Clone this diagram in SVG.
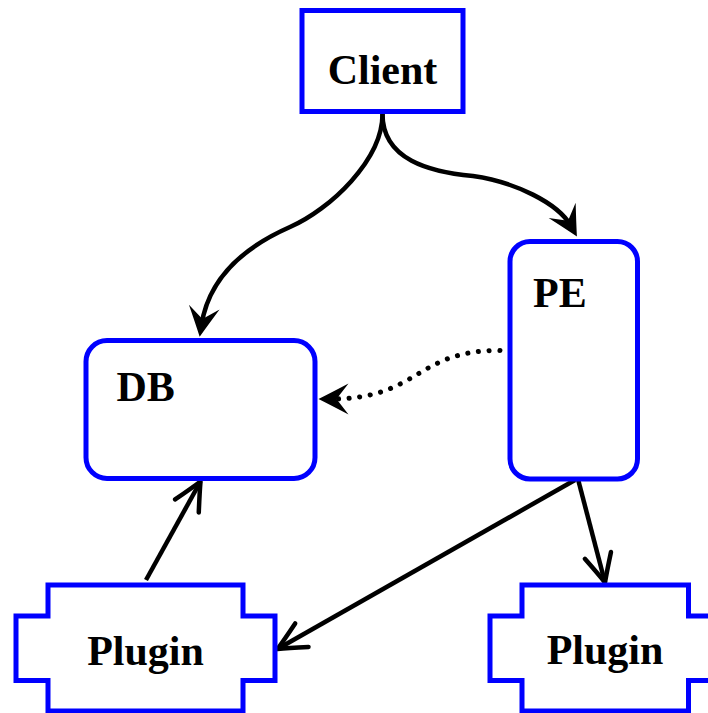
<svg xmlns="http://www.w3.org/2000/svg" width="708" height="713" viewBox="0 0 708 713">
  <style>
    .node { fill: #ffffff; stroke: #0000ff; stroke-width: 5; }
    .label { font-family: "Liberation Serif", "Times New Roman", serif; font-weight: bold; font-size: 42px; fill: #000000; }
    .edge { fill: none; stroke: #000000; stroke-width: 4.5; }
    .dotted { stroke-width: 5; stroke-dasharray: 0.1 10.6; stroke-linecap: round; }
  </style>
  <defs>
    <!-- filled stealth head; marker origin sits 12px behind the tip -->
    <marker id="stealth" markerUnits="userSpaceOnUse" viewBox="-24 -18 40 36" markerWidth="40" markerHeight="36" refX="0" refY="0" orient="auto" overflow="visible">
      <path d="M12,0 Q0,-6 -18,-15.5 L-6,0 L-18,15.5 Q0,6 12,0 Z" fill="#000000"/>
    </marker>
    <!-- open V head; origin at the tip -->
    <marker id="vee" markerUnits="userSpaceOnUse" viewBox="-32 -16 34 32" markerWidth="34" markerHeight="32" refX="0" refY="0" orient="auto" overflow="visible">
      <path d="M-28,-13.5 Q-9,-4 0,0 Q-9,4 -28,13.5" fill="none" stroke="#000000" stroke-width="4.5" stroke-linecap="round" stroke-linejoin="round"/>
    </marker>
  </defs>

  <g id="connectors">
    <path class="edge" d="M382.5,114 C382.5,160 430,172 473,176 C515,182 558,203 571,226" marker-end="url(#stealth)"/>
    <path class="edge" d="M382.5,114 C382.5,160 330,209.4 290,227 C255,242.4 210,270 201.5,325" marker-end="url(#stealth)"/>
    <path class="edge dotted" d="M500,350.5 C415,350 420,399 330.5,399" marker-end="url(#stealth)"/>
    <path class="edge" d="M146,580 L200.5,481.5" marker-end="url(#vee)"/>
    <path class="edge" d="M575,480 L277.5,649" marker-end="url(#vee)"/>
    <path class="edge" d="M576,471.5 L605,582.5" marker-end="url(#vee)"/>
  </g>

  <g id="client">
    <rect class="node" x="302" y="10.5" width="161" height="101"/>
    <text class="label" x="382.5" y="83.5" text-anchor="middle">Client</text>
  </g>

  <g id="pe">
    <rect class="node" x="510" y="241.5" width="127.5" height="237.5" rx="20" ry="20"/>
    <text class="label" x="533" y="306.5">PE</text>
  </g>

  <g id="db">
    <rect class="node" x="86" y="340.5" width="229" height="138" rx="21" ry="21"/>
    <text class="label" x="116.5" y="400.5">DB</text>
  </g>

  <g id="plugin-left">
    <polygon class="node" points="48,585 243,585 243,616 275,616 275,680.5 243,680.5 243,711 48,711 48,680.5 16,680.5 16,616 48,616"/>
    <text class="label" x="145.5" y="664.5" text-anchor="middle">Plugin</text>
  </g>

  <g id="plugin-right">
    <polygon class="node" points="522,585 688.5,585 688.5,616 720,616 720,680.5 688.5,680.5 688.5,711 522,711 522,680.5 490,680.5 490,616 522,616"/>
    <text class="label" x="605" y="664" text-anchor="middle">Plugin</text>
  </g>
</svg>
